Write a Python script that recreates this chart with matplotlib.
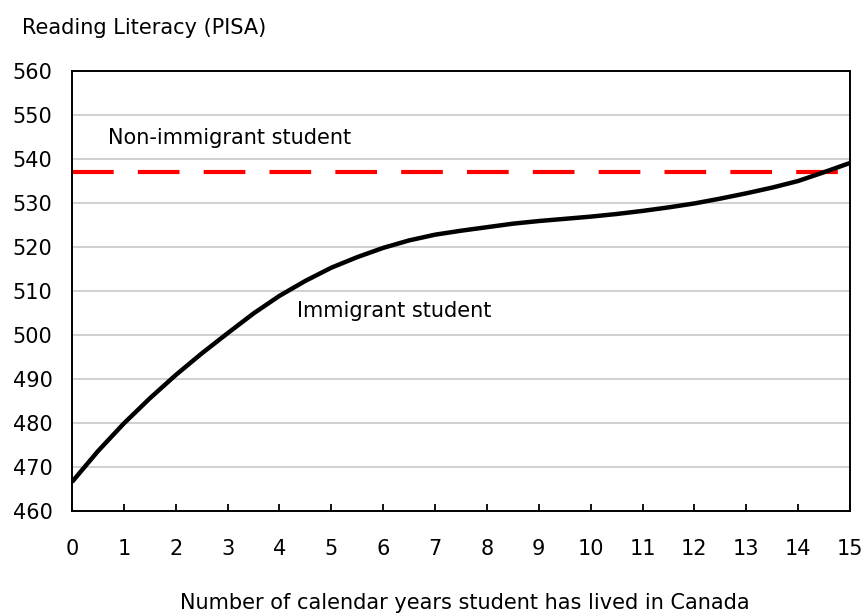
import numpy as np
import matplotlib.pyplot as plt

plt.rcParams['font.family'] = ['DejaVu Sans']

# Years lived in Canada and reading score of immigrant students
years = [0, 0.5, 1, 1.5, 2, 2.5, 3, 3.5, 4, 4.5, 5, 5.5, 6, 6.5, 7, 7.5,
         8, 8.5, 9, 9.5, 10, 10.5, 11, 11.5, 12, 12.5, 13, 13.5, 14, 14.5, 15]
immigrant = [466.6, 473.6, 479.9, 485.6, 490.9, 495.8, 500.4, 504.9, 508.9,
             512.3, 515.3, 517.7, 519.8, 521.5, 522.8, 523.7, 524.5, 525.3,
             525.9, 526.4, 526.9, 527.5, 528.2, 529.0, 529.9, 531.0, 532.2,
             533.5, 535.0, 537.0, 539.1]
non_immigrant = 537

fs = 15

fig = plt.figure(figsize=(8.64, 6.14), dpi=100)
ax = fig.add_axes([72 / 864, 1 - 511 / 614, 778 / 864, 440 / 614])

ax.plot(years, immigrant, color='black', lw=3.2, solid_capstyle='butt', zorder=3)
ax.plot([0, 15], [non_immigrant, non_immigrant], color='#ff0000', lw=3.0,
        dashes=(10, 5.8), solid_capstyle='butt', zorder=2)

ax.set_xlim(0, 15)
ax.set_ylim(460, 560)
ax.set_xticks(range(16))
ax.set_yticks(range(460, 561, 10))
ax.tick_params(axis='x', direction='in', length=5, width=1.3, pad=20,
               labelsize=fs, top=False)
ax.tick_params(axis='y', length=0, pad=14, labelsize=fs)
ax.grid(axis='y', color='#c8c8c8', lw=1.2)
ax.set_axisbelow(True)
for s in ax.spines.values():
    s.set_linewidth(1.4)

ax.text(0.69, 544.8, 'Non-immigrant student', fontsize=fs, va='center')
ax.text(4.34, 505.5, 'Immigrant student', fontsize=fs, va='center')

fig.text(22 / 864, 1 - 28 / 614, 'Reading Literacy (PISA)', fontsize=fs,
         va='center')
fig.text(465 / 864, 1 - 603 / 614,
         'Number of calendar years student has lived in Canada',
         fontsize=fs, ha='center', va='center')

fig.savefig('out.png', dpi=100)
